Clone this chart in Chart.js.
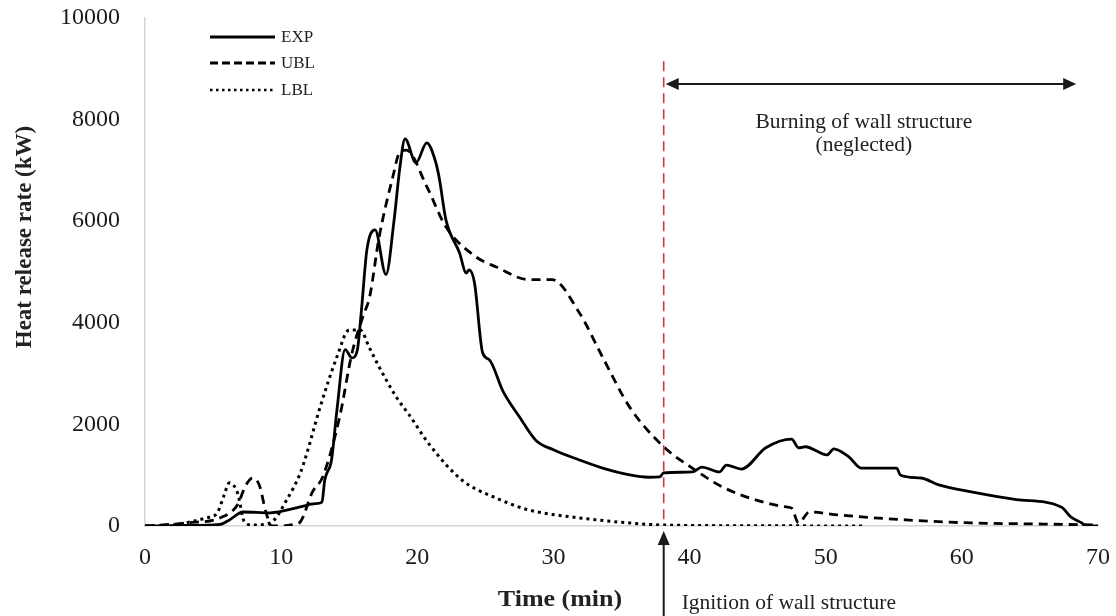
<!DOCTYPE html>
<html>
<head>
<meta charset="utf-8">
<title>Heat release rate</title>
<script src="https://cdn.jsdelivr.net/npm/chart.js@4.4.1/dist/chart.umd.min.js"></script>
<style>
    html, body { margin: 0; padding: 0; background: #fff; }
    #wrap { width: 1116px; height: 616px; }
</style>
</head>
<body>
<div id="wrap"><canvas id="hrrChart" width="1116" height="616"></canvas></div>
<script>
// values (time in min, HRR in kW)
var expTime = [0, 3, 5.5, 6.2, 7.2, 9.2, 11.4, 12.5, 13.0, 13.2, 13.7, 14.1, 14.7, 15.2, 15.6, 15.9, 16.3, 16.9, 17.7, 18.3, 18.7, 19.1, 19.9, 20.7, 21.3, 21.6, 22.1, 23.1, 23.6, 23.8, 24.2, 24.8, 25.3, 26.3, 27.5, 28.7, 30.0, 31.9, 33.5, 35.6, 37.0, 37.8, 38.1, 40.2, 40.9, 42.2, 42.7, 43.8, 45.6, 47.5, 48.0, 48.5, 50.1, 50.6, 51.7, 52.6, 55.2, 55.5, 57.0, 58.3, 60.7, 64.0, 67.3, 68.0, 68.8, 69.1, 70]
var expHrr = [0, 10, 30, 120, 276, 260, 375, 440, 470, 900, 1300, 2285, 3470, 3310, 3470, 4255, 5440, 5830, 4950, 6030, 7010, 7620, 7150, 7540, 7210, 6870, 6030, 5380, 4980, 5040, 4790, 3410, 3270, 2650, 2150, 1690, 1500, 1300, 1150, 1005, 960, 965, 1044, 1064, 1160, 1064, 1200, 1120, 1540, 1710, 1540, 1560, 1400, 1520, 1360, 1140, 1140, 1000, 945, 810, 670, 520, 375, 180, 60, 0, 0]

var ublTime = [0, 3, 5.7, 6.8, 7.4, 7.9, 8.4, 8.9, 9.3, 10.0, 10.9, 11.4, 12.3, 13.05, 14.3, 15.2, 16.0, 16.5, 17.2, 18.2, 18.7, 19.2, 20.7, 22.1, 24.3, 25.8, 28.2, 29.9, 31.9, 33.6, 35.6, 38.1, 40.2, 42.4, 44.9, 47.1, 47.5, 48.0, 48.8, 51.0, 55.9, 60.7, 65.6, 70]
var ublHrr = [0, 60, 180, 420, 800, 945, 800, 256, 0, 0, 30, 80, 670, 965, 2150, 3400, 4120, 4510, 5690, 6870, 7350, 7400, 6680, 5890, 5300, 5100, 4850, 4850, 4200, 3330, 2340, 1560, 1140, 770, 510, 375, 350, 60, 275, 215, 120, 60, 40, 20]

var lblTime = [0, 2, 4.5, 5.3, 5.8, 6.2, 6.8, 7.3, 7.9, 9.2, 10.4, 11.4, 11.9, 12.8, 14.1, 15.0, 15.8, 16.5, 17.2, 18.5, 19.4, 20.9, 23.3, 25.8, 28.2, 31.9, 35.6, 38.0, 45.0, 52.9]
var lblHrr = [0, 20, 160, 255, 600, 850, 650, 80, 20, 60, 510, 1040, 1440, 2285, 3330, 3860, 3860, 3500, 3130, 2520, 2190, 1600, 900, 550, 315, 160, 60, 20, 5, 0]

var xTicks = [0, 10, 20, 30, 40, 50, 60, 70]
var yTicks = [0, 2000, 4000, 6000, 8000, 10000]

// annotation anchors (data units)
var ignitionTime = 38.1
var burnEndTime = 68.4
var burnArrowHrr = 8700
var burnTextTime = 52.8
var redLineTop = 9150

var serif = "'Liberation Serif', 'Times New Roman', serif"

function toPoints(ts, vs) {
    var pts = []
    for (var i = 0; i < ts.length; i++) {
        pts.push({x: ts[i], y: vs[i]})
    }
    return pts
}

function arrowHead(ctx, x, y, dir, len, half) {
    // dir: 'left', 'right', 'up'
    ctx.beginPath()
    if (dir == 'left') {
        ctx.moveTo(x, y); ctx.lineTo(x + len, y - half); ctx.lineTo(x + len, y + half)
    } else if (dir == 'right') {
        ctx.moveTo(x, y); ctx.lineTo(x - len, y - half); ctx.lineTo(x - len, y + half)
    } else {
        ctx.moveTo(x, y); ctx.lineTo(x - half, y + len); ctx.lineTo(x + half, y + len)
    }
    ctx.closePath()
    ctx.fill()
}

// keep the tick labels from pushing the plot area around
function fixPadding(scale) {
    scale.paddingTop = 0
    scale.paddingBottom = 0
    scale.paddingLeft = 0
    scale.paddingRight = 0
}

var annotations = {
    id: 'annotations',
    afterDraw: function (chart) {
        var ctx = chart.ctx
        var xs = chart.scales.x
        var ys = chart.scales.y
        var area = chart.chartArea
        ctx.save()

        // red dashed line at ignition
        var xi = xs.getPixelForValue(ignitionTime)
        ctx.strokeStyle = '#cc3a35'
        ctx.lineWidth = 1.6
        ctx.setLineDash([10, 6])
        ctx.beginPath()
        ctx.moveTo(xi, ys.getPixelForValue(redLineTop))
        ctx.lineTo(xi, area.bottom)
        ctx.stroke()
        ctx.setLineDash([])

        // double arrow: burning of wall structure
        var ya = ys.getPixelForValue(burnArrowHrr)
        var x1 = xi + 2
        var x2 = xs.getPixelForValue(burnEndTime)
        ctx.strokeStyle = '#1a1a1a'
        ctx.fillStyle = '#1a1a1a'
        ctx.lineWidth = 2
        ctx.beginPath()
        ctx.moveTo(x1 + 8, ya)
        ctx.lineTo(x2 - 8, ya)
        ctx.stroke()
        arrowHead(ctx, x1, ya, 'left', 13, 6)
        arrowHead(ctx, x2, ya, 'right', 13, 6)

        ctx.fillStyle = '#222'
        ctx.font = '21.5px ' + serif
        ctx.textAlign = 'center'
        ctx.textBaseline = 'middle'
        var xc = xs.getPixelForValue(burnTextTime)
        ctx.fillText('Burning of wall structure', xc, ya + 38)
        ctx.fillText('(neglected)', xc, ya + 61)

        // ignition arrow from below
        ctx.strokeStyle = '#1a1a1a'
        ctx.fillStyle = '#1a1a1a'
        ctx.lineWidth = 2
        ctx.beginPath()
        ctx.moveTo(xi, chart.height)
        ctx.lineTo(xi, area.bottom + 16)
        ctx.stroke()
        arrowHead(ctx, xi, area.bottom + 5, 'up', 14, 6)
        ctx.fillStyle = '#222'
        ctx.textAlign = 'left'
        ctx.fillText('Ignition of wall structure', xi + 18, 603)

        // axis titles
        ctx.font = 'bold 23px ' + serif
        ctx.textAlign = 'center'
        ctx.save()
        ctx.translate(560, 600)
        ctx.scale(1.13, 1)
        ctx.fillText('Time (min)', 0, 0)
        ctx.restore()
        ctx.save()
        ctx.translate(25, 237)
        ctx.rotate(-Math.PI / 2)
        ctx.fillText('Heat release rate (kW)', 0, 0)
        ctx.restore()

        // legend
        var lx = area.left + 65
        var lw = 65
        var rows = [
            {label: 'EXP', dash: [], width: 3, y: area.top + 19},
            {label: 'UBL', dash: [8, 4], width: 3, y: area.top + 45},
            {label: 'LBL', dash: [2.5, 3.5], width: 2.5, y: area.top + 72}
        ]
        ctx.font = '17px ' + serif
        ctx.textAlign = 'left'
        rows.forEach(function (r) {
            ctx.strokeStyle = '#000'
            ctx.lineWidth = r.width
            ctx.setLineDash(r.dash)
            ctx.beginPath()
            ctx.moveTo(lx, r.y)
            ctx.lineTo(lx + lw, r.y)
            ctx.stroke()
            ctx.setLineDash([])
            ctx.fillStyle = '#222'
            ctx.fillText(r.label, lx + lw + 6, r.y + 1)
        })

        ctx.restore()
    }
}

var ctx = document.getElementById('hrrChart').getContext('2d')
var hrrChart = new Chart(ctx, {
    type: 'line',
    data: {
        datasets: [
            {
                label: 'EXP',
                data: toPoints(expTime, expHrr),
                borderColor: '#000',
                borderWidth: 2.8,
                pointRadius: 0,
                cubicInterpolationMode: 'monotone'
            },
            {
                label: 'UBL',
                data: toPoints(ublTime, ublHrr),
                borderColor: '#000',
                borderWidth: 2.8,
                borderDash: [9, 6],
                pointRadius: 0,
                cubicInterpolationMode: 'monotone'
            },
            {
                label: 'LBL',
                data: toPoints(lblTime, lblHrr),
                borderColor: '#000',
                borderWidth: 3,
                borderDash: [3, 4],
                pointRadius: 0,
                cubicInterpolationMode: 'monotone'
            }
        ]
    },
    options: {
        responsive: false,
        animation: false,
        layout: {padding: {top: 18, right: 18, left: 0, bottom: 0}},
        plugins: {
            legend: {display: false},
            tooltip: {enabled: false}
        },
        scales: {
            x: {
                type: 'linear',
                min: 0,
                max: 70,
                afterBuildTicks: function (scale) {
                    scale.ticks = xTicks.map(function (v) { return {value: v} })
                },
                afterFit: function (scale) {
                    scale.height = 90
                    fixPadding(scale)
                },
                grid: {display: false, drawTicks: false},
                border: {display: true, color: '#d4d4d4', width: 1.5},
                ticks: {
                    padding: 17,
                    color: '#1a1a1a',
                    font: {family: serif, size: 24},
                    maxRotation: 0
                }
            },
            y: {
                min: 0,
                max: 10000,
                afterBuildTicks: function (scale) {
                    scale.ticks = yTicks.map(function (v) { return {value: v} })
                },
                afterFit: function (scale) {
                    scale.width = 145
                    fixPadding(scale)
                },
                grid: {display: false, drawTicks: false},
                border: {display: true, color: '#d4d4d4', width: 1.5},
                ticks: {
                    padding: 25,
                    color: '#1a1a1a',
                    font: {family: serif, size: 24},
                    callback: function (v) { return String(v) }
                }
            }
        }
    },
    plugins: [annotations]
})
</script>
</body>
</html>
